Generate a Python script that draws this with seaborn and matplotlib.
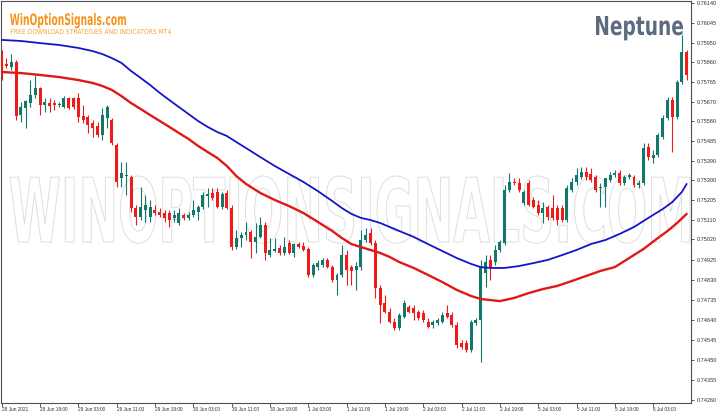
import matplotlib
matplotlib.use("Agg")
import numpy as np
import pandas as pd
import matplotlib.pyplot as plt
import seaborn as sns
from matplotlib import patheffects
from matplotlib.transforms import Affine2D
from matplotlib.textpath import TextPath
from matplotlib.font_manager import FontProperties

# ---------------- data (prices in 1e-5 units) ----------------
open_pts = [
    75898, 75851, 75837, 75860, 75609, 75643, 75666, 75704, 75737, 75657,
    75666, 75666, 75657, 75647, 75690, 75690, 75690, 75605, 75600, 75571,
    75557, 75515, 75595, 75586, 75467, 75311, 75320, 75316, 75169, 75126,
    75159, 75126, 75159, 75150, 75145, 75145, 75122, 75098, 75136, 75122,
    75136, 75150, 75174, 75226, 75240, 75245, 75174, 75240, 75169, 74984,
    75027, 75041, 75055, 75008, 75032, 75088, 74946, 74965, 74979, 74956,
    75003, 74956, 74998, 74989, 74975, 74852, 74889, 74899, 74923, 74889,
    74828, 74852, 74946, 74889, 74875, 74889, 75017, 75051, 75003, 74790,
    74719, 74676, 74629, 74601, 74653, 74700, 74695, 74676, 74672, 74629,
    74615, 74624, 74629, 74672, 74662, 74615, 74530, 74530, 74496, 74624,
    74639, 74861, 74923, 74913, 74970, 75003, 75254, 75292, 75287, 75193,
    75287, 75207, 75183, 75145, 75174, 75169, 75169, 75169, 75112, 75254,
    75292, 75316, 75339, 75330, 75316, 75264, 75268, 75302, 75325, 75335,
    75287, 75316, 75316, 75278, 75287, 75458, 75406, 75420, 75505, 75595,
    75680, 75600, 75766, 75908,
]
high_pts = [
    75917, 75879, 75898, 75870, 75671, 75680, 75775, 75799, 75742, 75690,
    75690, 75680, 75671, 75699, 75695, 75695, 75714, 75657, 75609, 75586,
    75576, 75643, 75657, 75595, 75477, 75387, 75387, 75325, 75183, 75268,
    75231, 75207, 75183, 75169, 75159, 75159, 75159, 75169, 75145, 75150,
    75207, 75183, 75245, 75264, 75264, 75264, 75245, 75254, 75183, 75065,
    75055, 75103, 75065, 75098, 75126, 75103, 75027, 75027, 74994, 75032,
    75017, 75003, 75008, 75008, 74984, 74908, 74923, 74932, 74932, 74899,
    74861, 74994, 74970, 74899, 74913, 75065, 75074, 75074, 75017, 74804,
    74757, 74695, 74648, 74672, 74733, 74710, 74710, 74686, 74686, 74648,
    74639, 74648, 74676, 74710, 74676, 74629, 74544, 74544, 74639, 74648,
    74923, 74946, 74946, 74994, 75017, 75278, 75335, 75311, 75311, 75254,
    75302, 75221, 75207, 75197, 75183, 75231, 75183, 75183, 75278, 75311,
    75358, 75363, 75363, 75358, 75325, 75287, 75311, 75339, 75349, 75349,
    75325, 75335, 75325, 75302, 75477, 75477, 75444, 75524, 75609, 75695,
    75695, 75775, 75988, 75917,
]
low_pts = [
    75775, 75832, 75822, 75586, 75576, 75548, 75647, 75690, 75609, 75624,
    75624, 75633, 75647, 75643, 75638, 75638, 75576, 75571, 75524, 75505,
    75505, 75491, 75548, 75467, 75268, 75268, 75231, 75150, 75088, 75112,
    75103, 75103, 75136, 75126, 75103, 75079, 75103, 75088, 75112, 75112,
    75126, 75112, 75164, 75174, 75207, 75169, 75164, 75164, 74970, 74975,
    74984, 75017, 74932, 74956, 75027, 74923, 74937, 74961, 74946, 74946,
    74951, 74937, 74979, 74965, 74842, 74842, 74875, 74889, 74885, 74818,
    74757, 74842, 74804, 74804, 74781, 74875, 75008, 74994, 74743, 74624,
    74672, 74624, 74591, 74591, 74648, 74672, 74639, 74639, 74629, 74600,
    74601, 74615, 74624, 74648, 74605, 74506, 74501, 74487, 74487, 74615,
    74440, 74795, 74828, 74899, 74961, 74994, 75245, 75278, 75245, 75183,
    75178, 75169, 75136, 75098, 75112, 75112, 75088, 75103, 75103, 75245,
    75278, 75306, 75302, 75292, 75245, 75174, 75174, 75292, 75316, 75278,
    75278, 75306, 75268, 75264, 75278, 75396, 75382, 75410, 75496, 75586,
    75434, 75590, 75756, 75775,
]
close_pts = [
    75813, 75841, 75860, 75605, 75647, 75676, 75704, 75737, 75657, 75671,
    75652, 75657, 75661, 75690, 75643, 75647, 75600, 75586, 75562, 75548,
    75515, 75609, 75647, 75477, 75292, 75335, 75325, 75169, 75126, 75174,
    75183, 75174, 75145, 75136, 75122, 75112, 75136, 75145, 75122, 75136,
    75159, 75174, 75231, 75235, 75216, 75174, 75235, 75169, 74984, 75027,
    75041, 75055, 75008, 75032, 75088, 74956, 74970, 74975, 74956, 74984,
    74956, 74998, 74984, 74970, 74852, 74899, 74908, 74923, 74889, 74828,
    74852, 74946, 74875, 74871, 74894, 75017, 75041, 75003, 74790, 74710,
    74676, 74629, 74601, 74662, 74719, 74676, 74672, 74648, 74639, 74605,
    74629, 74639, 74662, 74653, 74615, 74520, 74511, 74496, 74629, 74639,
    74889, 74913, 74889, 74970, 75008, 75254, 75292, 75287, 75254, 75245,
    75183, 75174, 75145, 75169, 75126, 75122, 75112, 75112, 75264, 75292,
    75325, 75339, 75316, 75302, 75254, 75268, 75311, 75325, 75335, 75287,
    75316, 75325, 75278, 75287, 75453, 75410, 75420, 75515, 75595, 75680,
    75600, 75766, 75908, 75799,
]

# moving averages (bar index, value in 1e-5 units)
blue_bars = [0, 4, 8, 12, 16, 19, 21, 23, 25, 27, 29, 31, 33, 35, 37, 39, 41, 43,
             45, 47, 49, 51, 54, 57, 60, 63, 66, 69, 71, 73, 75, 77, 79, 81, 83,
             86, 89, 92, 95, 98, 100, 102, 105, 108, 111, 114, 117, 120, 123,
             126, 129, 132, 135, 138, 140, 142, 143]
blue_pts = [75965, 75960, 75950, 75941, 75927, 75912, 75898, 75879, 75856, 75818,
            75785, 75751, 75714, 75680, 75647, 75614, 75581, 75553, 75529, 75510,
            75481, 75453, 75410, 75368, 75330, 75292, 75249, 75202, 75169, 75141,
            75122, 75112, 75098, 75079, 75060, 75032, 74998, 74965, 74932, 74904,
            74889, 74885, 74885, 74894, 74908, 74923, 74946, 74970, 74998, 75017,
            75046, 75079, 75122, 75164, 75197, 75245, 75283]
red_bars = [0, 4, 8, 12, 16, 19, 21, 23, 25, 27, 29, 31, 33, 35, 37, 39, 41, 43,
            45, 47, 49, 51, 54, 57, 60, 63, 66, 69, 71, 73, 75, 77, 79, 81, 83,
            86, 89, 92, 95, 98, 100, 102, 104, 107, 110, 113, 116, 119, 122,
            125, 128, 131, 134, 137, 139, 141, 143]
red_pts = [75813, 75808, 75799, 75789, 75775, 75761, 75747, 75728, 75699, 75666,
           75638, 75609, 75581, 75553, 75524, 75496, 75463, 75434, 75406, 75368,
           75320, 75283, 75240, 75207, 75178, 75145, 75103, 75060, 75027, 74998,
           74984, 74970, 74956, 74937, 74913, 74885, 74852, 74818, 74781, 74752,
           74738, 74733, 74728, 74743, 74766, 74785, 74800, 74823, 74847, 74871,
           74889, 74932, 74975, 75027, 75060, 75098, 75141]

tick_bars = [0, 8, 16, 24, 32, 40, 48, 56, 64, 72, 80, 88, 96, 104, 112, 120, 128, 136]
tick_labels = ["28 Jun 2021", "28 Jun 19:00", "29 Jun 03:00", "29 Jun 11:00",
               "29 Jun 19:00", "30 Jun 03:00", "30 Jun 11:00", "30 Jun 19:00",
               "1 Jul 03:00", "1 Jul 11:00", "1 Jul 19:00", "2 Jul 03:00",
               "2 Jul 11:00", "2 Jul 19:00", "5 Jul 03:00", "5 Jul 11:00",
               "5 Jul 19:00", "6 Jul 03:00"]
price_ticks = [0.76140, 0.76045, 0.75950, 0.75860, 0.75765, 0.75670, 0.75580,
               0.75485, 0.75390, 0.75300, 0.75205, 0.75110, 0.75020, 0.74925,
               0.74830, 0.74735, 0.74640, 0.74545, 0.74450, 0.74355, 0.74260]

# ---------------- styling ----------------
W, H, DPI = 720, 415, 100
TEAL = "#12786c"
RED = "#ee1b1b"
BLUE = "#1515c8"
MA_RED = "#e01818"

sns.set_theme(style="white")
plt.rcParams["font.family"] = ["DejaVu Sans"]


class Stretch(patheffects.AbstractPathEffect):
    """Draw glyphs stretched about an anchor (display coords)."""
    def __init__(self, sx=1.0, sy=1.0, x0=0.0, y0=0.0, edgecolor=None,
                 linewidth=0.8, fill=True):
        super().__init__()
        self.sx, self.sy, self.x0, self.y0 = sx, sy, x0, y0
        self.edgecolor, self.linewidth, self.fill = edgecolor, linewidth, fill

    def draw_path(self, renderer, gc, tpath, affine, rgbFace=None):
        tr = affine + Affine2D().translate(-self.x0, -self.y0).scale(
            self.sx, self.sy).translate(self.x0, self.y0)
        gc0 = renderer.new_gc()
        gc0.copy_properties(gc)
        if self.edgecolor is not None:
            gc0.set_foreground(self.edgecolor)
            gc0.set_linewidth(self.linewidth)
        renderer.draw_path(gc0, tpath, tr, rgbFace if self.fill else None)
        gc0.restore()


def fitted_text(holder, s, left, top, baseline, width, color, weight="bold",
                family="DejaVu Sans", outline=None, lw=0.8, zorder=3):
    fp = FontProperties(family=family, weight=weight)
    ext = TextPath((0, 0), s, size=100, prop=fp).get_extents()
    size_px = 100.0 * width / (ext.x1 - ext.x0)
    fs_pt = size_px * 72.0 / DPI
    x_anchor = left - ext.x0 * size_px / 100.0
    cap = ext.y1 * size_px / 100.0
    sy = (baseline - top) / cap
    xd, yd = x_anchor, H - baseline
    t = holder.text(xd / W, yd / H, s, family=family, weight=weight,
                    fontsize=fs_pt, ha="left", va="baseline", color=color,
                    zorder=zorder, transform=fig.transFigure)
    if outline is None:
        t.set_path_effects([Stretch(1.0, sy, xd, yd)])
    else:
        t.set_path_effects([Stretch(1.0, sy, xd, yd, edgecolor=outline,
                                    linewidth=lw, fill=False)])
    return t


fig = plt.figure(figsize=(W / DPI, H / DPI), dpi=DPI)
fig.patch.set_facecolor("white")
ax = fig.add_axes([1 / W, 12 / H, 690 / W, 402 / H])
ax.set_facecolor("white")

df = pd.DataFrame({
    "bar": np.arange(len(open_pts)),
    "open": np.array(open_pts) / 1e5,
    "high": np.array(high_pts) / 1e5,
    "low": np.array(low_pts) / 1e5,
    "close": np.array(close_pts) / 1e5,
})
colors = np.where(df["close"] >= df["open"], TEAL, RED)

# watermark behind everything
fitted_text(ax, "WINOPTIONSIGNALS.COM", left=10, top=176, baseline=242,
            width=680, color="white", outline="#dedede", lw=0.7, zorder=0.5)

ax.vlines(df["bar"], df["low"], df["high"], colors=colors, lw=0.8, zorder=3)
ax.bar(df["bar"], df["close"] - df["open"], bottom=df["open"], width=0.62,
       color=colors, linewidth=0, zorder=4)

sns.lineplot(x=blue_bars, y=np.array(blue_pts) / 1e5, ax=ax, color=BLUE,
             lw=1.3, zorder=5)
sns.lineplot(x=red_bars, y=np.array(red_pts) / 1e5, ax=ax, color=MA_RED,
             lw=1.7, zorder=5)

ax.set_xlim(-0.146, 143.9)
ax.set_ylim(0.742454, 0.761493)
ax.set_xlabel("")
ax.set_ylabel("")

ax.set_xticks(tick_bars)
ax.set_xticklabels(tick_labels, fontsize=3.4, color="#303030",
                   family="Liberation Sans")
for lbl in ax.get_xticklabels():
    lbl.set_ha("left")
ax.tick_params(axis="x", bottom=True, direction="out", length=3, width=0.6,
               pad=0.2, color="#404040")

ax.yaxis.tick_right()
ax.set_yticks(price_ticks)
ax.set_yticklabels([f"{v:.5f}" for v in price_ticks], fontsize=4.0,
                   color="#303030", family="Liberation Sans")
ax.tick_params(axis="y", right=True, left=False, direction="out", length=2.5,
               width=0.6, pad=1.5, color="#404040")

for sp in ax.spines.values():
    sp.set_visible(True)
    sp.set_color("#505050")
    sp.set_linewidth(0.8)

# logos
fitted_text(fig, "WinOptionSignals.com", left=10, top=13, baseline=25,
            width=116, color="#f7941d", weight="bold")
fitted_text(fig, "FREE DOWNLOAD STRATEGIES AND INDICATORS MT4", left=11,
            top=29, baseline=34, width=160, color="#f6a23e", weight="normal")
fitted_text(fig, "Neptune", left=596, top=16, baseline=35, width=87,
            color="#5c6b7e", weight="bold")

fig.savefig("out.png", dpi=DPI, facecolor="white")
